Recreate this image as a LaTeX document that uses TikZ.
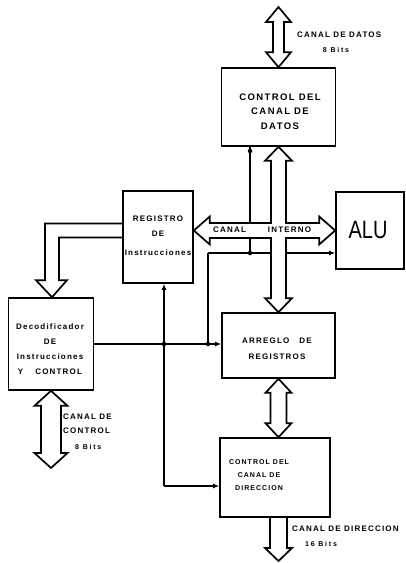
\documentclass[tikz,border=0pt]{standalone}
\usepackage{fontspec}
\usepackage{graphicx}
\setmainfont{Liberation Sans}
\newfontfamily\labfnt[LetterSpace=15]{Liberation Sans}
\newfontfamily\bitfnt[LetterSpace=25]{Liberation Sans}
\usetikzlibrary{calc,arrows.meta,backgrounds}
\newcommand\dbus[5]{%
\path[bus] let \p1=(#1), \p2=(#2) in (\x1,\y1) -- (\x1+#4,\y1-#5) -- (\x1+#3,\y1-#5) -- (\x1+#3,\y2+#5) -- (\x1+#4,\y2+#5) -- (\x1,\y2) -- (\x1-#4,\y2+#5) -- (\x1-#3,\y2+#5) -- (\x1-#3,\y1-#5) -- (\x1-#4,\y1-#5) -- cycle;}
\begin{document}
\begin{tikzpicture}[x=1pt,y=-1pt,
 box/.style={draw,line width=1.6pt,inner sep=0pt},
 bus/.style={draw,line width=1.7pt,fill=white,line join=miter},
 wire/.style={draw,line width=1.3pt},
 tip/.style={-{Latex[length=6pt,width=5pt]}},
 dot/.style={circle,fill,inner sep=0pt,minimum size=4.5pt},
 btxt/.style={font=\labfnt\bfseries\fontsize{9.5}{14.5}\selectfont,align=center,inner sep=0pt},
 lab/.style={font=\labfnt\bfseries\fontsize{8}{14}\selectfont,align=left,inner sep=0pt},
 bits/.style={font=\bitfnt\bfseries\fontsize{7}{9}\selectfont,inner sep=0pt}]
\useasboundingbox (0,0) rectangle (405,563);

% boxes
\node[box,minimum width=114pt,minimum height=78pt] (cd) at (278.5,107) {};
\node[box,minimum width=70pt,minimum height=92pt] (ri) at (158,237) {};
\node[box,minimum width=68pt,minimum height=77pt] (alu) at (370,230.5) {};
\node[box,minimum width=113pt,minimum height=65pt] (ar) at (278.5,345.5) {};
\node[box,minimum width=110pt,minimum height=79pt] (dir) at (275,477.5) {};
\node[box,minimum width=85pt,minimum height=92pt] (dec) at (51,344) {};

% coordinates
\coordinate (dtop) at (278.5,7);
\coordinate (cbot) at (52,468);
\coordinate (abot) at (278.5,561);
\coordinate (j1) at (250,253);
\coordinate (j2) at (208,253);
\coordinate (j4) at (164,344);
\coordinate (j5) at (164,486);

\begin{scope}[on background layer]
\fill[white] (0,0) rectangle (405,563);
% wires
\draw[wire] (cd.south -| j1) -- (j1);
\draw[wire,tip] (j2) -- (j2 -| alu.west);
\draw[wire] (j2) -- (j2 |- dec.east);
\draw[wire,tip] (dec.east) -- (dec.east -| ar.west);
\draw[wire,tip] (j5) -- (j5 |- ri.south);
\draw[wire,tip] (j5) -- (j5 -| dir.west);
% internal bus (cross)
\path[bus] let \p1=(cd.south), \p2=(ar.north), \p3=(ri.east), \p4=(alu.west) in
 (\x1,\y1) -- (\x1+13.5pt,\y1-14pt) -- (\x1+7.5pt,\y1-14pt) -- (\x1+7.5pt,\y4+7.5pt)
 -- (\x4-16pt,\y4+7.5pt) -- (\x4-16pt,\y4+14pt) -- (\x4,\y4) -- (\x4-16pt,\y4-14pt)
 -- (\x4-16pt,\y4-7.5pt) -- (\x1+7.5pt,\y4-7.5pt) -- (\x1+7.5pt,\y2+14pt)
 -- (\x1+13.5pt,\y2+14pt) -- (\x1,\y2) -- (\x1-13.5pt,\y2+14pt) -- (\x1-7.5pt,\y2+14pt)
 -- (\x1-7.5pt,\y4-7.5pt) -- (\x3+16pt,\y4-7.5pt) -- (\x3+16pt,\y4-14pt) -- (\x3,\y4)
 -- (\x3+16pt,\y4+14pt) -- (\x3+16pt,\y4+7.5pt) -- (\x1-7.5pt,\y4+7.5pt)
 -- (\x1-7.5pt,\y1-14pt) -- (\x1-13.5pt,\y1-14pt) -- cycle;
% register to decoder bus
\path[bus] let \p1=(ri.west), \p2=(dec.north), \p3=(alu.west) in
 (\x1,\y3+7pt) -- (\x2-6pt,\y3+7pt) -- (\x2-6pt,\y2+17pt) -- (\x2-15pt,\y2+17pt) -- (\x2+1pt,\y2)
 -- (\x2+16pt,\y2+17pt) -- (\x2+8pt,\y2+17pt) -- (\x2+8pt,\y3-7pt) -- (\x1,\y3-7pt);
% data, address, control buses
\dbus{dtop}{cd.north}{5.5pt}{12.5pt}{15pt}
\dbus{ar.south}{ar.south |- dir.north}{8pt}{13pt}{14pt}
\dbus{dec.south}{cbot}{10pt}{16.5pt}{15pt}
\path[bus] let \p1=(ar.south |- dir.south), \p2=(abot) in
 (\x1-8.5pt,\y1) -- (\x1-8.5pt,\y2+13pt) -- (\x1-13.5pt,\y2+13pt) -- (\x1,\y2)
 -- (\x1+13.5pt,\y2+13pt) -- (\x1+8.5pt,\y2+13pt) -- (\x1+8.5pt,\y1);
\end{scope}

% dots
\node[dot] (d1) at (250,151) {};
\node[dot] (d2) at (j1) {};
\node[dot] (d3) at (j2 |- dec.east) {};
\node[dot] (d4) at (j4) {};

% box texts
\node[btxt] (cdt) at (280,111.5) {CONTROL DEL\\CANAL DE\\DATOS};
\node[btxt,font=\labfnt\bfseries\fontsize{8}{15}\selectfont] (rit) at (158,236) {REGISTRO\\DE\\[4pt]Instrucciones};
\node[inner sep=0pt,font=\fontsize{25}{25}\selectfont] (alut) at (368,230) {\scalebox{0.8}[1]{ALU}};
\node[btxt,font=\labfnt\bfseries\fontsize{8}{16}\selectfont] (art) at (277,349) {ARREGLO\hspace{10pt}DE\\REGISTROS};
\node[btxt,font=\labfnt\bfseries\fontsize{7}{13}\selectfont] (dirt) at (259,475) {CONTROL DEL\\CANAL DE\\DIRECCION};
\node[btxt,font=\labfnt\bfseries\fontsize{8}{15}\selectfont] (dect) at (50,349.5) {Decodificador\\DE\\Instrucciones\\Y\hspace{12pt}CONTROL};

% labels
\node[lab,anchor=west] (ldat) at (297,35) {CANAL DE DATOS};
\node[bits] (bdat) at (336,50) {8 Bits};
\node[lab] (lci1) at (229.5,230) {CANAL};
\node[lab] (lci2) at (289.5,230) {INTERNO};
\node[lab,anchor=west] (lctl) at (63,424) {CANAL DE\\CONTROL};
\node[bits,anchor=west] (bctl) at (75,447) {8 Bits};
\node[lab,anchor=west] (ldir) at (292,529) {CANAL DE DIRECCION};
\node[bits,anchor=west] (bdir) at (305,544) {16 Bits};
\end{tikzpicture}
\end{document}
